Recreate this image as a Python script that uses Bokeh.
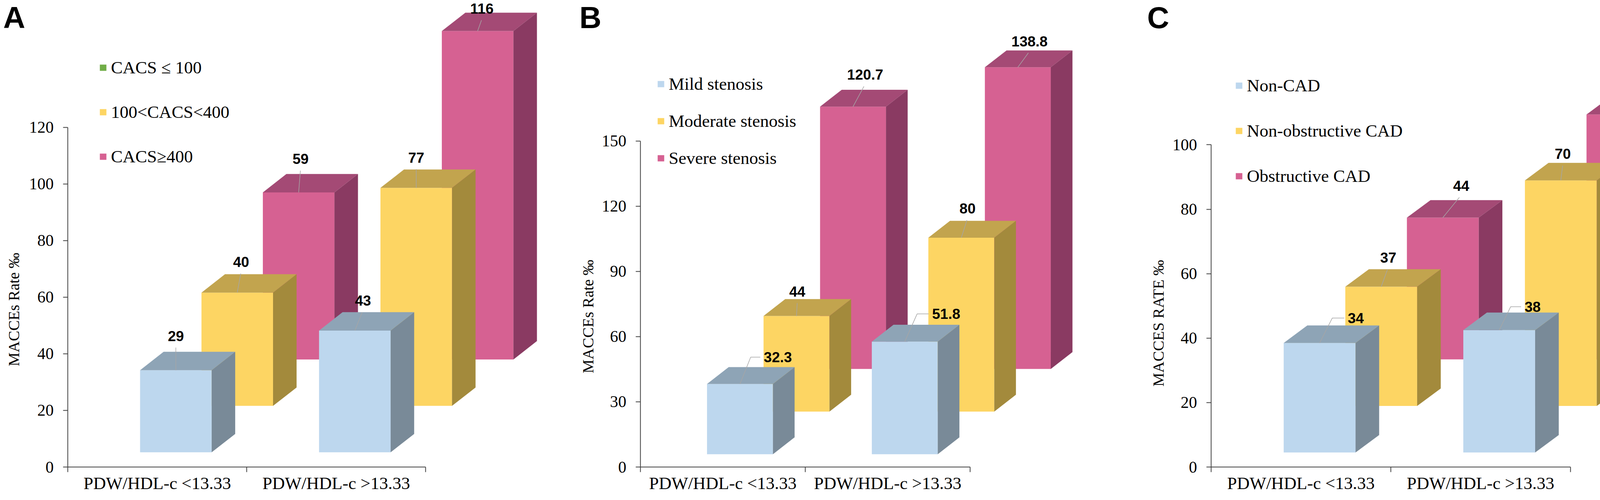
from bokeh.plotting import figure
from bokeh.models import FixedTicker, Legend, LegendItem, Range1d, Title, Label
from bokeh.layouts import row
from bokeh.embed import file_html
from bokeh.resources import INLINE
from bokeh.core.properties import value

# ---------------- data ----------------
categories = ["PDW/HDL-c <13.33", "PDW/HDL-c >13.33"]

a_series = ["CACS \u2264 100", "100<CACS<400", "CACS\u2265400"]
a_values = [[29, 43], [40, 77], [59, 116]]
a_yticks = [0, 20, 40, 60, 80, 100, 120]

b_series = ["Mild stenosis", "Moderate stenosis", "Severe stenosis"]
b_values = [[32.3, 51.8], [44, 80], [120.7, 138.8]]
b_yticks = [0, 30, 60, 90, 120, 150]

c_series = ["Non-CAD", "Non-obstructive CAD", "Obstructive CAD"]
c_values = [[34, 38], [37, 70], [44, 76]]
c_yticks = [0, 20, 40, 60, 80, 100]

# ---------------- style ----------------
FIG_H = 1265
FRONT = ["#BDD7EE", "#FDD563", "#D66192"]
TOP = ["#8EA4B6", "#C2A44E", "#A44A75"]
SIDE = ["#798A98", "#A38A3C", "#8A3A62"]
AXIS_C = "#3F3F3F"
LEAD_C = "#A6A6A6"
SERIF = "Liberation Serif"
SANS = "Liberation Sans"
NAN = float("nan")
LETTER_W = 56          # width the letter label's side panel takes

BAR_W = 0.40
BAR_X0 = 0.404
SER_STEP = 0.343
DEPTH_DX = 0.1315

panels = [
    dict(letter="A", series=a_series, values=a_values, yticks=a_yticks,
         ytitle="MACCEs Rate  \u2030", width=1442, left=170, bottom=66,
         pxx=459.3, pxy=7.271, base0=5.2, row_step=16.4, depth_dy=6.5,
         legend_colors=["#70AD47", FRONT[1], FRONT[2]],
         legend_x=80, legend_top=156, legend_spacing=62,
         ytitle_offset=258, ytitle_standoff=24, letter_x=32.5, letter_side="right",
         labels=[[("up", 0, 88), ("up", 21, 77)],
                 [("up", 10, 79), ("up", 0, 78)],
                 [("up", 5, 86), ("up", 11, 58)]]),
    dict(letter="B", series=b_series, values=b_values, yticks=b_yticks,
         ytitle="MACCEs Rate  \u2030", width=1430, left=197, bottom=66,
         pxx=421.9, pxy=5.583, base0=5.9, row_step=19.6, depth_dy=7.76,
         legend_colors=FRONT,
         legend_x=42, legend_top=198, legend_spacing=43,
         ytitle_offset=240, ytitle_standoff=16, letter_x=69, letter_side="right",
         labels=[[("side", 61, 69), ("side", 70, 71)],
                 [("up", 2, 63), ("up", 16, 75)],
                 [("up", 31, 82), ("up", 30, 67)]]),
    dict(letter="C", series=c_series, values=c_values, yticks=c_yticks,
         ytitle="MACCES RATE  \u2030", width=1440, left=228, bottom=66,
         pxx=459.8, pxy=8.276, base0=4.5, row_step=14.45, depth_dy=5.43,
         legend_colors=FRONT,
         legend_x=61, legend_top=202, legend_spacing=64,
         ytitle_offset=206, ytitle_standoff=17, letter_x=92.5, letter_side="left",
         labels=[[("side", 72, 64), ("side", 65, 60)],
                 [("up", 18, 75), ("up", 5, 68)],
                 [("up", 47, 82), ("side", 46, 65)]]),
]


def fmt(v):
    return f"{v:g}"


def make_panel(cfg):
    n = len(categories)
    frame_w = cfg["width"] - cfg["left"]
    if cfg["letter_side"] == "right":
        frame_w -= LETTER_W
    frame_h = FIG_H - cfg["bottom"]
    pxx, pxy = cfg["pxx"], cfg["pxy"]

    p = figure(width=cfg["width"], height=FIG_H, output_backend="svg",
               toolbar_location=None,
               x_range=Range1d(0, frame_w / pxx), y_range=Range1d(0, frame_h / pxy),
               min_border_left=cfg["left"], min_border_right=0,
               min_border_top=0, min_border_bottom=cfg["bottom"])
    p.outline_line_color = None
    p.grid.visible = False
    p.background_fill_color = "white"
    p.border_fill_color = "white"

    # y axis
    yax = p.yaxis[0]
    yax.ticker = FixedTicker(ticks=cfg["yticks"])
    yax.bounds = (0, cfg["yticks"][-1])
    yax.axis_line_color = AXIS_C
    yax.axis_line_width = 2
    yax.major_tick_out = 12
    yax.major_tick_in = 0
    yax.major_tick_line_color = AXIS_C
    yax.major_tick_line_width = 2
    yax.minor_tick_out = 0
    yax.minor_tick_in = 0
    yax.major_label_standoff = 24
    yax.major_label_text_font = SERIF
    yax.major_label_text_font_size = "42px"
    yax.major_label_text_color = "black"

    # x axis
    xax = p.xaxis[0]
    centers = [i + 0.5 for i in range(n)]
    xax.ticker = FixedTicker(ticks=centers, minor_ticks=list(range(n + 1)))
    xax.bounds = (0, n)
    xax.axis_line_color = AXIS_C
    xax.axis_line_width = 2
    xax.major_tick_out = 0
    xax.major_tick_in = 0
    xax.minor_tick_out = 13
    xax.minor_tick_in = 0
    xax.minor_tick_line_color = AXIS_C
    xax.minor_tick_line_width = 2
    xax.major_label_overrides = {c: lab for c, lab in zip(centers, categories)}
    xax.major_label_standoff = 3
    xax.major_label_text_font = SERIF
    xax.major_label_text_font_size = "45px"
    xax.major_label_text_color = "black"

    # 3D-looking bars, back row first
    ddy = cfg["depth_dy"]
    up_x, up_y, up_t = [], [], []
    sd_x, sd_y, sd_t = [], [], []
    lead_xs, lead_ys = [], []
    for s in reversed(range(len(cfg["series"]))):
        vals = cfg["values"][s]
        base = cfg["base0"] + s * cfg["row_step"]
        lefts, rights, tops, bottoms = [], [], [], []
        top_xs, top_ys, side_xs, side_ys = [], [], [], []
        for g, v in enumerate(vals):
            x0 = g + BAR_X0 + s * SER_STEP
            x1 = x0 + BAR_W
            top = base + v
            lefts.append(x0); rights.append(x1)
            bottoms.append(base); tops.append(top)
            top_xs.append([x0, x1, x1 + DEPTH_DX, x0 + DEPTH_DX])
            top_ys.append([top, top, top + ddy, top + ddy])
            side_xs.append([x1, x1 + DEPTH_DX, x1 + DEPTH_DX, x1])
            side_ys.append([base, base + ddy, top + ddy, top])

            kind, dxp, dyp = cfg["labels"][s][g]
            xc = (x0 + x1) / 2
            lx = xc + dxp / pxx
            ly = top + dyp / pxy
            if kind == "up":
                up_x.append(lx); up_y.append(ly); up_t.append(fmt(v))
                lead_xs.append([xc, xc + 0.9 * dxp / pxx])
                lead_ys.append([top, top + (dyp - 30) / pxy])
            else:
                sd_x.append(lx); sd_y.append(ly); sd_t.append(fmt(v))
                lead_xs.append([xc, xc + 0.45 * dxp / pxx, xc + (dxp - 9) / pxx])
                lead_ys.append([top, ly, ly])
        p.quad(left=lefts, right=rights, top=tops, bottom=bottoms,
               fill_color=FRONT[s], line_color=None)
        p.patches(top_xs, top_ys, fill_color=TOP[s], line_color=None)
        p.patches(side_xs, side_ys, fill_color=SIDE[s], line_color=None)

    p.multi_line(lead_xs, lead_ys, line_color=LEAD_C, line_width=1.5)
    p.text(up_x, up_y, text=up_t, text_font=value(SANS), text_font_style="bold",
           text_font_size="37px", text_align="center", text_baseline="middle",
           text_color="black")
    if sd_t:
        p.text(sd_x, sd_y, text=sd_t, text_font=value(SANS), text_font_style="bold",
               text_font_size="37px", text_align="left", text_baseline="middle",
               text_color="black")

    # legend (swatches via placeholder renderers that hold no visible data)
    items = []
    for name, col in zip(cfg["series"], cfg["legend_colors"]):
        r = p.quad(left=[NAN], right=[NAN], top=[NAN], bottom=[NAN],
                   fill_color=col, line_color=None)
        items.append(LegendItem(label=name, renderers=[r]))
    item_h = 50
    leg_h = 3 * item_h + 2 * cfg["legend_spacing"]
    vy = frame_h - cfg["legend_top"] - leg_h
    legend = Legend(items=items, location=(cfg["legend_x"], vy),
                    orientation="vertical", spacing=cfg["legend_spacing"],
                    padding=0, margin=0, border_line_color=None,
                    background_fill_alpha=0, glyph_width=21, glyph_height=20,
                    label_height=item_h, label_standoff=10,
                    label_text_font=SERIF, label_text_font_size="45px",
                    label_text_color="black", label_text_baseline="middle")
    p.add_layout(legend, "center")

    # y-axis title (left side panel, placed along the 0..max tick span)
    ytitle = Title(text=cfg["ytitle"], align="left", vertical_align="top",
                   offset=cfg["ytitle_offset"], standoff=cfg["ytitle_standoff"],
                   text_font=SERIF, text_font_style="normal",
                   text_font_size="40px", text_color="black")
    p.add_layout(ytitle, "left")

    # panel letter (in a side panel so the frame does not clip it)
    letter = Label(x=(cfg["letter_x"] - cfg["left"]) / pxx, y=(frame_h - 1) / pxy,
                   text=cfg["letter"], text_align="center", text_baseline="top",
                   text_font=SANS, text_font_style="bold", text_font_size="78px",
                   text_color="black")
    p.add_layout(letter, cfg["letter_side"])
    return p


figs = [make_panel(c) for c in panels]
layout = row(*figs, spacing=0)
open("out.html", "w").write(file_html(layout, INLINE))
